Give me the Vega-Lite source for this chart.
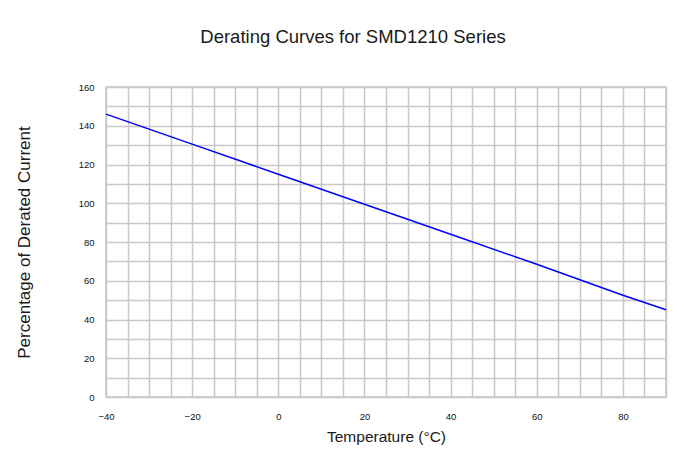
{
  "$schema": "https://vega.github.io/schema/vega-lite/v6.json",
  "width": 560,
  "height": 310,
  "autosize": {"type": "none"},
  "padding": {"left": 106, "top": 87, "right": 18, "bottom": 71},
  "background": "white",
  "title": {
    "text": "Derating Curves for SMD1210 Series",
    "font": "Liberation Sans",
    "fontSize": 18.5,
    "fontWeight": "normal",
    "color": "#1a1a1a",
    "anchor": "middle",
    "dx": -33,
    "offset": 36
  },
  "config": {
    "view": {"stroke": "#c8c8c8", "strokeWidth": 1.5},
    "axis": {
      "labelFont": "Liberation Sans",
      "labelFontSize": 9.5,
      "labelColor": "#111111",
      "titleFont": "Liberation Sans",
      "titleFontWeight": "normal",
      "titleColor": "#1a1a1a",
      "gridColor": "#c8c8c8",
      "gridWidth": 1.5,
      "gridOpacity": 1,
      "domain": false,
      "ticks": false
    }
  },
  "data": {
    "values": [
      {"t": -40, "p": 146},
      {"t": -20, "p": 130.5},
      {"t": 0, "p": 115},
      {"t": 20, "p": 99.5},
      {"t": 40, "p": 84},
      {"t": 60, "p": 68.5},
      {"t": 80, "p": 52.5},
      {"t": 90, "p": 45}
    ]
  },
  "mark": {"type": "line", "color": "#0000ff", "strokeWidth": 1.5},
  "encoding": {
    "x": {
      "field": "t",
      "type": "quantitative",
      "scale": {"domain": [-40, 90], "nice": false, "zero": false},
      "axis": {
        "title": "Temperature (°C)",
        "titleFontSize": 15.5,
        "titlePadding": 9,
        "labelPadding": 14,
        "values": [-40,-35,-30,-25,-20,-15,-10,-5,0,5,10,15,20,25,30,35,40,45,50,55,60,65,70,75,80,85,90],
        "labelExpr": "datum.value % 20 == 0 ? datum.label : ''",
        "labelFlush": false
      }
    },
    "y": {
      "field": "p",
      "type": "quantitative",
      "scale": {"domain": [0, 160], "nice": false},
      "axis": {
        "title": "Percentage of Derated Current",
        "titleFontSize": 17,
        "titlePadding": 45,
        "labelPadding": 12,
        "values": [0,10,20,30,40,50,60,70,80,90,100,110,120,130,140,150,160],
        "labelExpr": "datum.value % 20 == 0 ? datum.label : ''"
      }
    }
  }
}
